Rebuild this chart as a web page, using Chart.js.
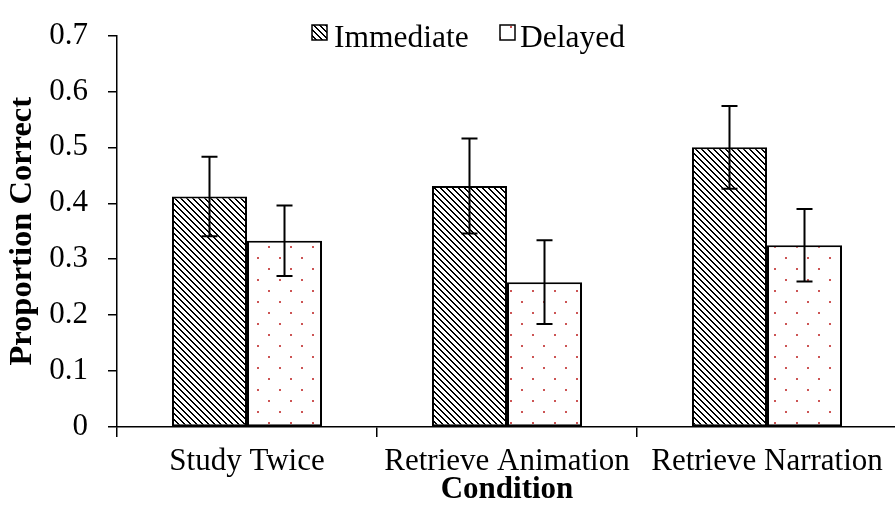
<!DOCTYPE html>
<html lang="en">
<head>
  <meta charset="UTF-8">
  <title>Proportion Correct by Condition</title>
  <script src="https://cdn.jsdelivr.net/npm/chart.js"></script>
  <style>
    body {
      margin: 0;
      overflow: hidden;
      background: #fff;
    }
  </style>
</head>
<body>
<canvas id="chart" width="900" height="505"></canvas>

<script>
  const conditions = ["Study Twice", "Retrieve Animation", "Retrieve Narration"];
  const seriesNames = ["Immediate", "Delayed"];
  const immediate = [0.412, 0.431, 0.500];
  const delayed = [0.333, 0.259, 0.325];
  const immediateErr = [0.071, 0.085, 0.074];
  const delayedErr = [0.063, 0.075, 0.065];
  const yTicks = ["0", "0.1", "0.2", "0.3", "0.4", "0.5", "0.6", "0.7"];

  const FONT = "'Liberation Serif', 'Times New Roman', serif";

  // diagonal hatch for the Immediate bars
  function hatchPattern() {
    const c = document.createElement('canvas');
    c.width = 12; c.height = 12;
    const g = c.getContext('2d');
    g.fillStyle = '#fff';
    g.fillRect(0, 0, 12, 12);
    g.fillStyle = '#000';
    for (let y = 0; y < 12; y++) {
      for (let x = 0; x < 12; x++) {
        if (((x - y) % 6 + 6) % 6 < 2) g.fillRect(x, y, 1, 1);
      }
    }
    return g.createPattern(c, 'repeat');
  }

  // sparse red dots for the Delayed bars
  function dotPattern() {
    const c = document.createElement('canvas');
    c.width = 22; c.height = 22;
    const g = c.getContext('2d');
    g.fillStyle = '#fff';
    g.fillRect(0, 0, 22, 22);
    g.fillStyle = 'rgb(204, 84, 84)';
    g.fillRect(4, 4, 2, 2);
    g.fillRect(15, 15, 2, 2);
    return g.createPattern(c, 'repeat');
  }

  const fills = [hatchPattern(), dotPattern()];
  const errors = [immediateErr, delayedErr];

  const errorBars = {
    id: 'errorBars',
    afterDatasetsDraw(chart) {
      const ctx = chart.ctx;
      const yScale = chart.scales.y;
      ctx.save();
      ctx.strokeStyle = '#000';
      ctx.lineWidth = 2;
      chart.data.datasets.forEach((ds, i) => {
        const meta = chart.getDatasetMeta(i);
        meta.data.forEach((bar, j) => {
          const v = ds.data[j];
          const e = errors[i][j];
          const top = yScale.getPixelForValue(v + e);
          const bot = yScale.getPixelForValue(v - e);
          ctx.beginPath();
          ctx.moveTo(bar.x, top);
          ctx.lineTo(bar.x, bot);
          ctx.moveTo(bar.x - 8, top);
          ctx.lineTo(bar.x + 8, top);
          ctx.moveTo(bar.x - 8, bot);
          ctx.lineTo(bar.x + 8, bot);
          ctx.stroke();
        });
      });
      ctx.restore();
    }
  };

  const legendInside = {
    id: 'legendInside',
    afterDraw(chart) {
      const ctx = chart.ctx;
      const items = [
        { box: 312, text: 334 },
        { box: 500, text: 520 }
      ];
      ctx.save();
      ctx.font = '31.5px ' + FONT;
      ctx.textBaseline = 'alphabetic';
      chart.data.datasets.forEach((ds, i) => {
        const it = items[i];
        ctx.fillStyle = fills[i];
        ctx.fillRect(it.box, 25, 15, 15);
        ctx.strokeStyle = '#000';
        ctx.lineWidth = 1.5;
        ctx.strokeRect(it.box, 25, 15, 15);
        ctx.fillStyle = '#000';
        ctx.fillText(ds.label, it.text, 47);
      });
      ctx.restore();
    }
  };

  new Chart(document.getElementById('chart').getContext('2d'), {
    type: 'bar',
    data: {
      labels: conditions,
      datasets: [
        {
          label: seriesNames[0],
          data: immediate,
          backgroundColor: fills[0],
          borderColor: '#000',
          borderWidth: 2,
          borderSkipped: false
        },
        {
          label: seriesNames[1],
          data: delayed,
          backgroundColor: fills[1],
          borderColor: '#000',
          borderWidth: 2,
          borderSkipped: false
        }
      ]
    },
    options: {
      responsive: false,
      animation: false,
      layout: {
        padding: { top: 19, right: 3, bottom: 0, left: 0 }
      },
      datasets: {
        bar: {
          categoryPercentage: 0.577,
          barPercentage: 1
        }
      },
      scales: {
        x: {
          afterFit(scale) { scale.height = 78; },
          border: { color: '#000', width: 1.5 },
          grid: {
            drawOnChartArea: false,
            tickLength: 10,
            color: '#000',
            lineWidth: 1.5,
            offset: true
          },
          ticks: {
            color: '#000',
            padding: 9,
            maxRotation: 0,
            font: { family: FONT, size: 31, lineHeight: 1 }
          },
          title: {
            display: true,
            text: 'Condition',
            color: '#000',
            padding: { top: 0, bottom: 0 },
            font: { family: FONT, size: 31, weight: 'bold', lineHeight: 1 }
          }
        },
        y: {
          min: 0,
          max: 0.7,
          afterFit(scale) { scale.width = 117; },
          border: { color: '#000', width: 1.5 },
          grid: {
            drawOnChartArea: false,
            tickLength: 9,
            color: '#000',
            lineWidth: 1.5
          },
          ticks: {
            stepSize: 0.1,
            color: '#000',
            padding: 20,
            font: { family: FONT, size: 31, lineHeight: 1 },
            callback: function(value, index) {
              return yTicks[index];
            }
          },
          title: {
            display: true,
            text: 'Proportion Correct',
            color: '#000',
            padding: { top: 6, bottom: 0 },
            font: { family: FONT, size: 32.5, weight: 'bold', lineHeight: 1 }
          }
        }
      },
      plugins: {
        legend: { display: false },
        tooltip: { enabled: false }
      }
    },
    plugins: [errorBars, legendInside]
  });
</script>
</body>
</html>
